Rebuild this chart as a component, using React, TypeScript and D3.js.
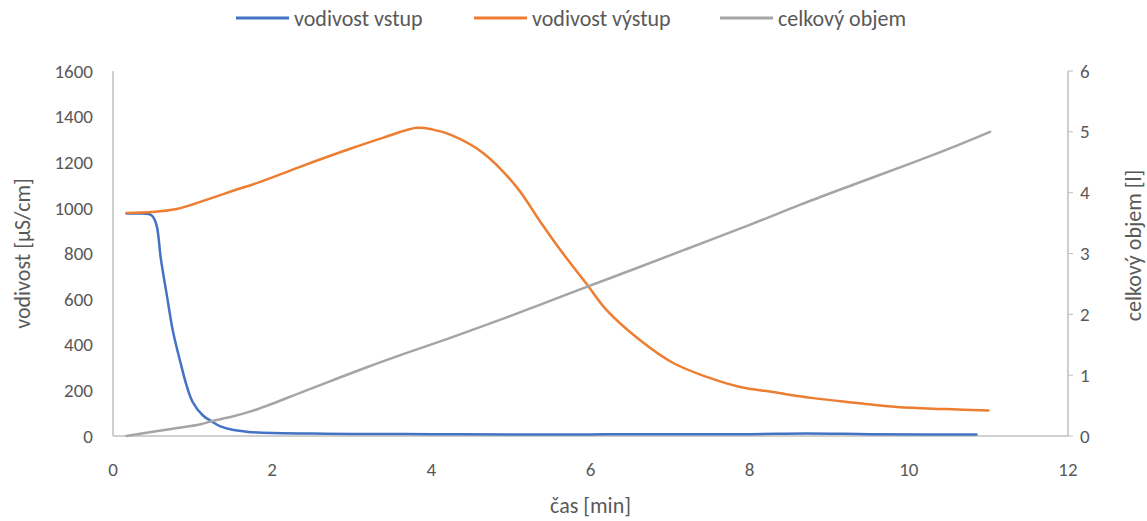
import React from 'react';
import * as d3 from 'd3';

// vodivost vstup
const inTime = [0.17, 0.3, 0.45, 0.5, 0.55, 0.6, 0.68, 0.75, 0.84, 0.93, 1.0, 1.13, 1.25, 1.35, 1.5, 1.7, 2.0, 2.5, 3.0, 4.0, 5.0, 6.0, 7.0, 8.0, 8.7, 9.5, 10.2, 10.85];
const inValues = [975, 975, 973, 962, 920, 780, 610, 465, 333, 215, 150, 90, 62, 42, 27, 18, 13, 11, 9, 8, 7, 7, 8, 8, 11, 8, 7, 7];

// vodivost výstup
const outTime = [0.17, 0.5, 0.8, 1.0, 1.43, 1.85, 2.35, 2.98, 3.39, 3.82, 4.02, 4.23, 4.65, 5.07, 5.37, 5.62, 5.97, 6.2, 6.62, 7.04, 7.46, 7.88, 8.29, 8.8, 9.35, 9.85, 10.48, 11.0];
const outValues = [978, 982, 995, 1015, 1066, 1114, 1180, 1259, 1307, 1351, 1343, 1322, 1241, 1092, 939, 816, 658, 553, 421, 320, 259, 215, 193, 166, 145, 127, 118, 112];

// celkový objem
const volTime = [0.17, 0.5, 0.8, 1.09, 1.26, 1.5, 1.72, 2.0, 2.35, 2.75, 3.19, 3.7, 4.23, 4.8, 5.37, 5.97, 6.5, 7.2, 8.0, 8.63, 9.3, 10.0, 10.5, 11.02];
const volValues = [0, 0.07, 0.13, 0.19, 0.25, 0.32, 0.4, 0.53, 0.71, 0.91, 1.13, 1.37, 1.61, 1.88, 2.16, 2.46, 2.72, 3.07, 3.47, 3.8, 4.13, 4.47, 4.72, 5.0];

const xTicks = [0, 2, 4, 6, 8, 10, 12];
const yLeftTicks = [0, 200, 400, 600, 800, 1000, 1200, 1400, 1600];
const yRightTicks = [0, 1, 2, 3, 4, 5, 6];

const W = 1147;
const H = 521;
const margin = { top: 71, right: 79, bottom: 85, left: 113 };
const font = 'Carlito, Lato, sans-serif';
const textColor = '#595959';
const axisColor = '#BFBFBF';

const App = () => {
    const x = d3.scaleLinear().domain([0, 12]).range([margin.left, W - margin.right]);
    const yL = d3.scaleLinear().domain([0, 1600]).range([H - margin.bottom, margin.top]);
    const yR = d3.scaleLinear().domain([0, 6]).range([H - margin.bottom, margin.top]);

    const line = (ts: number[], vs: number[], y: d3.ScaleLinear<number, number>) =>
        d3.line<number>()
            .x((_, i) => x(ts[i]))
            .y(d => y(d))
            .curve(d3.curveCatmullRom.alpha(0.5))(vs) || '';

    const series = [
        { name: 'vodivost vstup', color: '#4472C4', path: line(inTime, inValues, yL) },
        { name: 'vodivost výstup', color: '#ED7D31', path: line(outTime, outValues, yL) },
        { name: 'celkový objem', color: '#A5A5A5', path: line(volTime, volValues, yR) },
    ];
    const legendX = [236, 474, 720];

    const bottom = H - margin.bottom;
    const midY = (yL(0) + yL(1600)) / 2;

    return (
        <svg width={W} height={H} style={{ position: 'absolute', left: 0, top: 0, background: '#fff' }} fontFamily={font}>
            {/* legend */}
            {series.map((s, i) => (
                <g key={s.name} transform={`translate(${legendX[i]},18)`}>
                    <line x1={0} x2={53} y1={0} y2={0} stroke={s.color} strokeWidth={3} />
                    <text x={58} y={0} dy="0.35em" fontSize={22} fill={textColor}>{s.name}</text>
                </g>
            ))}

            {/* axes */}
            <line x1={x(0)} x2={x(0)} y1={yL(1600)} y2={bottom} stroke={axisColor} strokeWidth={1.5} />
            <line x1={x(0)} x2={x(12)} y1={bottom} y2={bottom} stroke={axisColor} strokeWidth={1.5} />
            <line x1={x(12)} x2={x(12)} y1={yR(6)} y2={bottom} stroke={axisColor} strokeWidth={1.5} />
            {yRightTicks.map(t => (
                <line key={t} x1={x(12)} x2={x(12) + 5} y1={yR(t)} y2={yR(t)} stroke={axisColor} strokeWidth={1} />
            ))}

            {yLeftTicks.map(t => (
                <text key={t} x={93} y={yL(t)} dy="0.35em" textAnchor="end" fontSize={19} fill={textColor}>{t}</text>
            ))}
            {yRightTicks.map(t => (
                <text key={t} x={x(12) + 12} y={yR(t)} dy="0.35em" fontSize={19} fill={textColor}>{t}</text>
            ))}
            {xTicks.map(t => (
                <text key={t} x={x(t)} y={bottom + 33} dy="0.35em" textAnchor="middle" fontSize={19} fill={textColor}>{t}</text>
            ))}

            <text x={x(6)} y={505} dy="0.35em" textAnchor="middle" fontSize={22} fill={textColor}>čas [min]</text>
            <text transform={`translate(22,${midY}) rotate(-90)`} dy="0.35em" textAnchor="middle" fontSize={22} fill={textColor}>vodivost [µS/cm]</text>
            <text transform={`translate(1133,${midY - 8}) rotate(-90)`} dy="0.35em" textAnchor="middle" fontSize={22} fill={textColor}>celkový objem [l]</text>

            {/* series */}
            {series.map(s => (
                <path key={s.name} d={s.path} fill="none" stroke={s.color} strokeWidth={2.5} strokeLinejoin="round" strokeLinecap="round" />
            ))}
        </svg>
    );
};

export default App;
